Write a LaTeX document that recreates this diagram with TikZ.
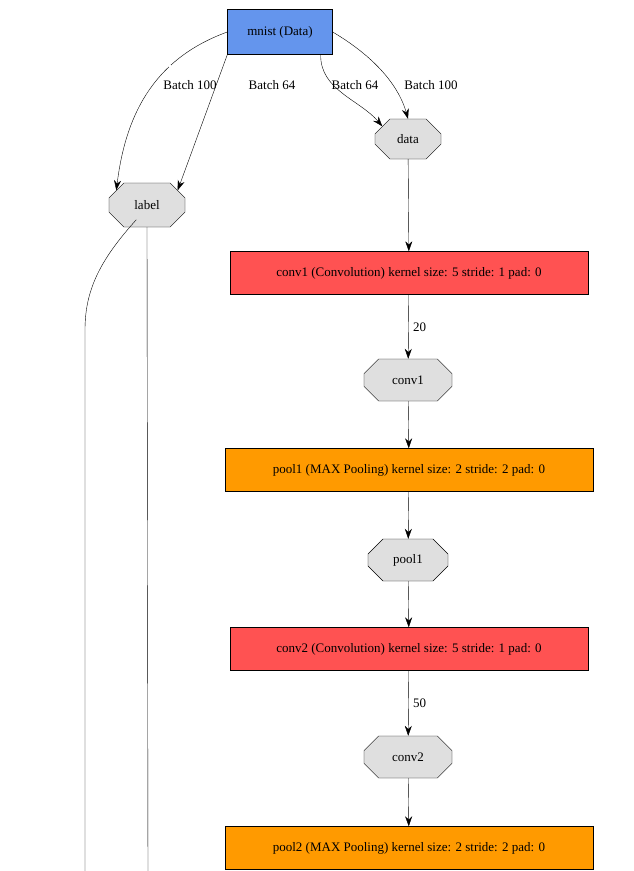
\documentclass[tikz,border=0pt]{standalone}
\usepackage{fontspec}
\setmainfont{Liberation Serif}
\usetikzlibrary{shapes.misc,arrows.meta}
\begin{document}
\begin{tikzpicture}[x=1pt,y=-1pt,font=\fontsize{13}{15}\selectfont,
  box/.style={draw,rectangle,minimum height=43pt,inner xsep=6pt},
  oct/.style={draw,chamfered rectangle,chamfered rectangle xsep=8pt,chamfered rectangle ysep=7pt,fill=gray!25,minimum height=42pt,inner xsep=6pt},
  ar/.style={-{Stealth[length=10pt,width=7pt]}},
  lab/.style={fill=white,inner sep=1pt}]
\useasboundingbox (0,0) rectangle (633,871);
\fill[white] (0,0) rectangle (633,871);
\definecolor{cblue}{HTML}{6495ED}\definecolor{cred}{HTML}{FF5252}\definecolor{corange}{HTML}{FF9A00}
\node[box,fill=cblue,minimum width=105pt,minimum height=45pt] (mnist) at (280,32) {mnist (Data)};
\node[oct,minimum width=66pt,minimum height=40pt] (data) at (408,139) {data};
\node[oct,minimum width=76pt,minimum height=44pt] (label) at (147,205) {label};
\node[box,fill=cred,minimum width=358pt] (c1) at (409,273) {conv1 (Convolution) kernel size: 5 stride: 1 pad: 0};
\node[oct,minimum width=88pt] (c1o) at (408,380) {conv1};
\node[box,fill=corange,minimum width=368pt] (p1) at (409,470) {pool1 (MAX Pooling) kernel size: 2 stride: 2 pad: 0};
\node[oct,minimum width=80pt] (p1o) at (408,560) {pool1};
\node[box,fill=cred,minimum width=358pt] (c2) at (409,649) {conv2 (Convolution) kernel size: 5 stride: 1 pad: 0};
\node[oct,minimum width=88pt] (c2o) at (408,757) {conv2};
\node[box,fill=corange,minimum width=368pt] (p2) at (409,848) {pool2 (MAX Pooling) kernel size: 2 stride: 2 pad: 0};
\coordinate (e1) at (85,880);
\coordinate (e2) at (148,880);
\draw[ar] (mnist.west) .. controls (150,60) and (125,120) .. (label.north west) node[pos=0.3,lab,above right=-2pt] {};
\node at (190,85) {Batch 100};
\draw[ar] (mnist.south west) -- (label.north east);
\node at (272,85) {Batch 64};
\draw[ar] ([xshift=-12pt]mnist.south east) .. controls (320,90) and (360,100) .. (data.north west);
\node at (355,85) {Batch 64};
\draw[ar] (mnist.east) .. controls (380,60) and (400,90) .. (data.north);
\node at (431,85) {Batch 100};
\draw (label.south west) ++(20pt,0) .. controls (100,260) and (85,290) .. (85,330) -- (e1);
\draw (label.south) -- (e2);
\draw[ar] (data) -- (c1);
\draw[ar] (c1) -- (c1o) node[midway,right=1pt] {20};
\draw[ar] (c1o) -- (p1);
\draw[ar] (p1) -- (p1o);
\draw[ar] (p1o) -- (c2);
\draw[ar] (c2) -- (c2o) node[midway,right=1pt] {50};
\draw[ar] (c2o) -- (p2);
\end{tikzpicture}
\end{document}
